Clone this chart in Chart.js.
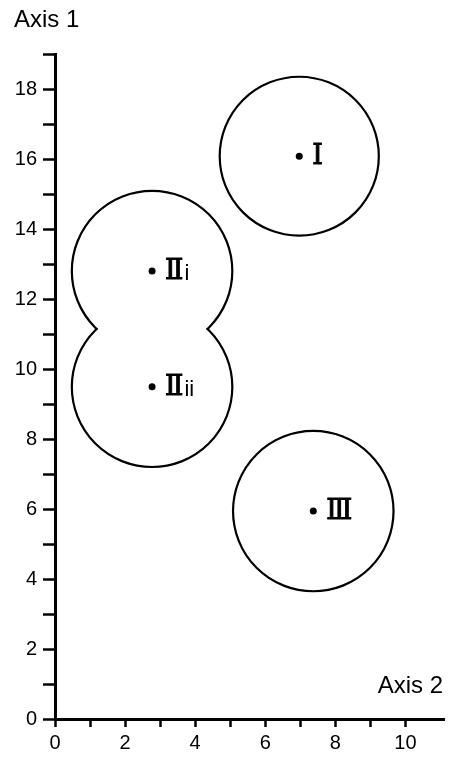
<!DOCTYPE html>
<html>
<head>
<meta charset="utf-8">
<script src="https://cdn.jsdelivr.net/npm/chart.js@4/dist/chart.umd.min.js"></script>
<style>
  html, body { margin: 0; padding: 0; background: #fff; }
  #wrap { width: 452px; height: 759px; }
</style>
</head>
<body>
<div id="wrap"><canvas id="c" width="452" height="759"></canvas></div>
<script>
// Group centroids on the two axes and the radius of the region drawn round each
const groupNumerals = ['Ⅰ', 'Ⅱ', 'Ⅱ', 'Ⅲ'];
const groupSuffixes = ['', 'i', 'ii', ''];
const axis2Values = [6.97, 2.77, 2.77, 7.37];
const axis1Values = [16.08, 12.8, 9.49, 5.94];
const regionRadius = [2.27, 2.29, 2.29, 2.29];
// Regions sharing an id are outlined as one merged shape
const regionGroup = [0, 1, 1, 2];

const axis2Title = 'Axis 2';
const axis1Title = 'Axis 1';
const axis2Range = [0, 11.1];
const axis1Range = [0, 19];

const points = axis2Values.map((x, i) => ({ x: x, y: axis1Values[i] }));

// Outlines of the regions, with overlapping circles of one group merged
const regionPlugin = {
  id: 'regions',
  afterDatasetsDraw(chart) {
    const ctx = chart.ctx;
    const xs = chart.scales.x, ys = chart.scales.y;
    const geo = axis2Values.map((x, i) => {
      const cx = xs.getPixelForValue(x);
      const cy = ys.getPixelForValue(axis1Values[i]);
      const rx = Math.abs(xs.getPixelForValue(x + regionRadius[i]) - cx);
      const ry = Math.abs(ys.getPixelForValue(axis1Values[i] + regionRadius[i]) - cy);
      return { cx, cy, rx, ry };
    });
    geo.forEach((g, i) => {
      ctx.save();
      ctx.beginPath();
      ctx.rect(0, 0, chart.width, chart.height);
      geo.forEach((o, j) => {
        if (j !== i && regionGroup[j] === regionGroup[i]) {
          ctx.moveTo(o.cx + o.rx - 0.8, o.cy);
          ctx.ellipse(o.cx, o.cy, o.rx - 0.8, o.ry - 0.8, 0, 0, Math.PI * 2);
        }
      });
      ctx.clip('evenodd');
      ctx.beginPath();
      ctx.ellipse(g.cx, g.cy, g.rx, g.ry, 0, 0, Math.PI * 2);
      ctx.lineWidth = 2.2;
      ctx.strokeStyle = '#000';
      ctx.stroke();
      ctx.restore();
    });

    // Group labels beside each centroid
    ctx.save();
    ctx.fillStyle = '#000';
    ctx.strokeStyle = '#000';
    ctx.lineWidth = 1;
    ctx.textBaseline = 'middle';
    ctx.textAlign = 'left';
    geo.forEach((g, i) => {
      const x0 = xs.getPixelForValue(axis2Values[i]) + 13;
      const y0 = ys.getPixelForValue(axis1Values[i]) + 1;
      ctx.font = '27px "DejaVu Serif"';
      ctx.fillText(groupNumerals[i], x0, y0);
      ctx.strokeText(groupNumerals[i], x0, y0);
      const w = ctx.measureText(groupNumerals[i]).width;
      if (groupSuffixes[i]) {
        ctx.font = '22px "Liberation Sans"';
        ctx.fillText(groupSuffixes[i], x0 + w + 1, y0 + 2);
      }
    });

    // Axis titles
    ctx.font = '24px "Liberation Sans"';
    ctx.textBaseline = 'alphabetic';
    ctx.textAlign = 'left';
    ctx.fillText(axis1Title, 14, 27);
    ctx.textAlign = 'right';
    ctx.fillText(axis2Title, xs.right - 1, ys.bottom - 26);
    ctx.restore();
  }
};

const tickFont = { family: 'Liberation Sans', size: 20 };

new Chart(document.getElementById('c'), {
  type: 'scatter',
  data: {
    datasets: [{
      data: points,
      pointRadius: 3.5,
      pointHoverRadius: 3.5,
      pointBackgroundColor: '#000',
      pointBorderColor: '#000',
      pointBorderWidth: 0
    }]
  },
  options: {
    responsive: false,
    animation: false,
    devicePixelRatio: 1,
    layout: { padding: { top: 54, right: 8, left: 0, bottom: 0 } },
    plugins: { legend: { display: false }, tooltip: { enabled: false } },
    scales: {
      x: {
        type: 'linear',
        min: axis2Range[0],
        max: axis2Range[1],
        afterBuildTicks(scale) {
          scale.ticks = scale.ticks.filter(t => Number.isInteger(t.value));
        },
        afterFit(scale) { scale.height = 40; },
        ticks: {
          stepSize: 1,
          autoSkip: false,
          maxRotation: 0,
          color: '#000',
          font: tickFont,
          padding: 4,
          callback: v => (v % 2 === 0 ? String(v) : '')
        },
        grid: {
          drawOnChartArea: false,
          drawTicks: true,
          tickLength: 8,
          tickWidth: 2.5,
          tickColor: '#000'
        },
        border: { display: true, color: '#000', width: 3 }
      },
      y: {
        type: 'linear',
        min: axis1Range[0],
        max: axis1Range[1],
        afterFit(scale) { scale.width = 55; },
        ticks: {
          stepSize: 1,
          autoSkip: false,
          color: '#000',
          font: tickFont,
          padding: 6,
          callback: v => (v % 2 === 0 ? String(v) : '')
        },
        grid: {
          drawOnChartArea: false,
          drawTicks: true,
          tickLength: 12,
          tickWidth: 2.5,
          tickColor: '#000'
        },
        border: { display: true, color: '#000', width: 3 }
      }
    }
  },
  plugins: [regionPlugin]
});
</script>
</body>
</html>
